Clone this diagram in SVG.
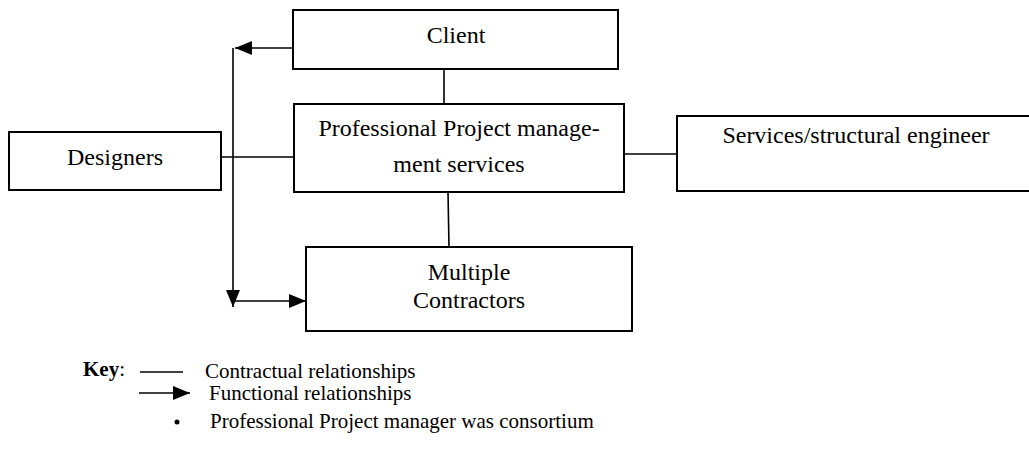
<svg xmlns="http://www.w3.org/2000/svg" width="1029" height="450" viewBox="0 0 1029 450">
<style>
.box{fill:#fff;stroke:#000;stroke-width:2}
.lbl{font-family:"Liberation Serif","Times New Roman",serif;font-size:24px;fill:#000;text-anchor:middle}
.key{font-family:"Liberation Serif","Times New Roman",serif;font-size:21px;fill:#000}
.ln{stroke:#000;stroke-width:1.6;fill:none}
</style>
<defs>
<marker id="ah" markerUnits="userSpaceOnUse" markerWidth="18" markerHeight="16" refX="17" refY="7" orient="auto">
<path d="M0,0 L17,7 L0,14 z" fill="#000"/>
</marker>
</defs>
<rect width="1029" height="450" fill="#fff"/>
<g id="connectors">
<line class="ln" x1="293" y1="48" x2="235" y2="48" marker-end="url(#ah)"/>
<line class="ln" x1="233" y1="48" x2="233" y2="307" marker-end="url(#ah)"/>
<line class="ln" x1="233" y1="301" x2="306" y2="301" marker-end="url(#ah)"/>
<line class="ln" x1="221" y1="157" x2="294" y2="157"/>
<line class="ln" x1="444" y1="69" x2="444" y2="104"/>
<line class="ln" x1="448" y1="192" x2="449" y2="247"/>
<line class="ln" x1="624" y1="154" x2="677" y2="154"/>
</g>
<g id="client">
<rect class="box" x="293" y="10" width="325" height="59"/>
<text class="lbl" x="456" y="43">Client</text>
</g>
<g id="ppm">
<rect class="box" x="294" y="104" width="330" height="88"/>
<text class="lbl" x="459" y="136">Professional Project manage-</text>
<text class="lbl" x="459" y="172">ment services</text>
</g>
<g id="designers">
<rect class="box" x="9" y="132" width="212" height="58"/>
<text class="lbl" x="115" y="165">Designers</text>
</g>
<g id="services">
<rect class="box" x="677" y="116" width="360" height="75"/>
<text class="lbl" x="856" y="143">Services/structural engineer</text>
</g>
<g id="contractors">
<rect class="box" x="306" y="247" width="326" height="84"/>
<text class="lbl" x="469" y="280">Multiple</text>
<text class="lbl" x="469" y="308">Contractors</text>
</g>
<g id="key">
<text class="key" x="83" y="376" font-weight="bold">Key<tspan font-weight="normal">:</tspan></text>
<line class="ln" x1="140" y1="372" x2="183" y2="372"/>
<text class="key" x="205" y="378">Contractual relationships</text>
<line class="ln" x1="139" y1="393" x2="190" y2="393" marker-end="url(#ah)"/>
<text class="key" x="209" y="400">Functional relationships</text>
<circle cx="177" cy="422" r="2.5" fill="#000"/>
<text class="key" x="210" y="428">Professional Project manager was consortium</text>
</g>
</svg>
